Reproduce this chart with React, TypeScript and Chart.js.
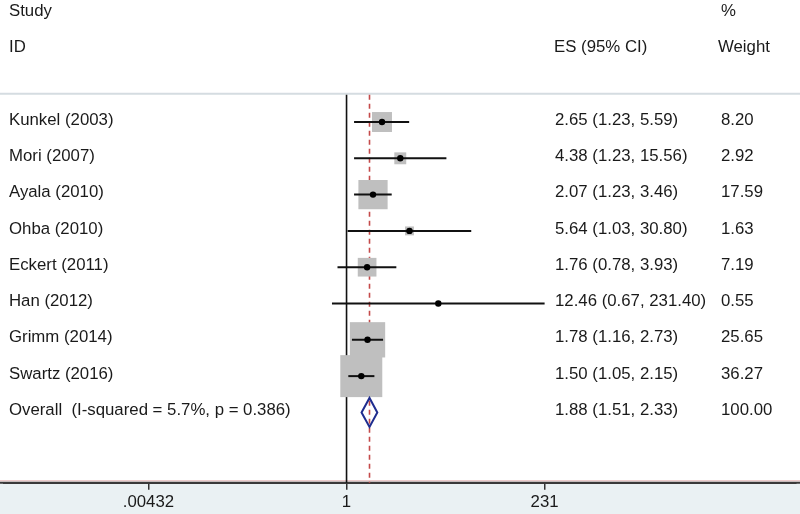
import React, { useEffect, useRef } from "react";
import { Chart, registerables } from "chart.js";

Chart.register(...registerables);

const studies = [
  "Kunkel (2003)",
  "Mori (2007)",
  "Ayala (2010)",
  "Ohba (2010)",
  "Eckert (2011)",
  "Han (2012)",
  "Grimm (2014)",
  "Swartz (2016)",
];
const es = [2.65, 4.38, 2.07, 5.64, 1.76, 12.46, 1.78, 1.5];
const lo = [1.23, 1.23, 1.23, 1.03, 0.78, 0.67, 1.16, 1.05];
const hi = [5.59, 15.56, 3.46, 30.8, 3.93, 231.4, 2.73, 2.15];
const weights = [8.2, 2.92, 17.59, 1.63, 7.19, 0.55, 25.65, 36.27];

const overallLabel = "Overall  (I-squared = 5.7%, p = 0.386)";
const overallEs = 1.88;
const overallLo = 1.51;
const overallHi = 2.33;
const overallWeight = 100.0;

const tickValues = [0.00432, 1, 231];
const tickLabels = [".00432", "1", "231"];

const FONT = '"Liberation Sans", Arial, Helvetica, sans-serif';

const fmt = (v: number) => v.toFixed(2);

const forestPlugin = {
  id: "forest",
  beforeDraw(chart: any) {
    const { ctx, chartArea, width, height } = chart;
    ctx.save();
    ctx.fillStyle = "#ffffff";
    ctx.fillRect(0, 0, width, height);
    ctx.fillStyle = "#eaf1f3";
    ctx.fillRect(0, chartArea.bottom, width, height - chartArea.bottom);
    ctx.restore();
  },
  beforeDatasetsDraw(chart: any) {
    const { ctx, chartArea, scales } = chart;
    const xs = scales.x;
    const ys = scales.y;
    const sepY = ys.getPixelForValue(-0.78);
    ctx.save();

    // separator
    ctx.strokeStyle = "#d5dce1";
    ctx.lineWidth = 2;
    ctx.beginPath();
    ctx.moveTo(0, sepY);
    ctx.lineTo(chart.width, sepY);
    ctx.stroke();

    // axis line across the full width, with pinkish edge above
    ctx.strokeStyle = "#e3b4b4";
    ctx.lineWidth = 1;
    ctx.beginPath();
    ctx.moveTo(0, chartArea.bottom - 2);
    ctx.lineTo(chart.width, chartArea.bottom - 2);
    ctx.stroke();
    ctx.strokeStyle = "#3a3a3a";
    ctx.lineWidth = 2;
    ctx.beginPath();
    ctx.moveTo(0, chartArea.bottom);
    ctx.lineTo(chart.width, chartArea.bottom);
    ctx.stroke();

    // no-effect line
    const x1 = xs.getPixelForValue(1);
    ctx.strokeStyle = "#111111";
    ctx.lineWidth = 1.6;
    ctx.beginPath();
    ctx.moveTo(x1, sepY + 1);
    ctx.lineTo(x1, chartArea.bottom);
    ctx.stroke();

    // overall dashed line
    const xo = xs.getPixelForValue(overallEs);
    ctx.strokeStyle = "#c44a4a";
    ctx.lineWidth = 1.6;
    ctx.setLineDash([5, 4]);
    ctx.beginPath();
    ctx.moveTo(xo, sepY + 1);
    ctx.lineTo(xo, chartArea.bottom);
    ctx.stroke();
    ctx.setLineDash([]);

    // boxes
    ctx.fillStyle = "#bfbfbf";
    for (let i = 0; i < studies.length; i++) {
      const side = 6.97 * Math.sqrt(weights[i]);
      const cx = xs.getPixelForValue(es[i]);
      const cy = ys.getPixelForValue(i);
      ctx.fillRect(cx - side / 2, cy - side / 2, side, side);
    }

    // CI lines
    ctx.strokeStyle = "#111111";
    ctx.lineWidth = 2;
    for (let i = 0; i < studies.length; i++) {
      const cy = ys.getPixelForValue(i);
      ctx.beginPath();
      ctx.moveTo(xs.getPixelForValue(lo[i]), cy);
      ctx.lineTo(xs.getPixelForValue(hi[i]), cy);
      ctx.stroke();
    }

    // diamond
    const oy = ys.getPixelForValue(studies.length);
    const h = 14.5;
    ctx.strokeStyle = "#1f2d8f";
    ctx.lineWidth = 2;
    ctx.beginPath();
    ctx.moveTo(xs.getPixelForValue(overallLo), oy);
    ctx.lineTo(xo, oy - h);
    ctx.lineTo(xs.getPixelForValue(overallHi), oy);
    ctx.lineTo(xo, oy + h);
    ctx.closePath();
    ctx.stroke();

    // texts
    const dy = -2;
    ctx.fillStyle = "#1a1a1a";
    ctx.font = `16.8px ${FONT}`;
    ctx.textBaseline = "middle";
    ctx.textAlign = "left";
    const xLab = 9;
    const xEs = 555;
    const xW = 721;
    ctx.fillText("Study", xLab, ys.getPixelForValue(-3) + dy);
    ctx.fillText("ID", xLab, ys.getPixelForValue(-2) + dy);
    ctx.fillText("ES (95% CI)", xEs - 1, ys.getPixelForValue(-2) + dy);
    ctx.fillText("%", xW, ys.getPixelForValue(-3) + dy);
    ctx.fillText("Weight", xW - 3, ys.getPixelForValue(-2) + dy);
    for (let i = 0; i < studies.length; i++) {
      const cy = ys.getPixelForValue(i) + dy;
      ctx.fillText(studies[i], xLab, cy);
      ctx.fillText(`${fmt(es[i])} (${fmt(lo[i])}, ${fmt(hi[i])})`, xEs, cy);
      ctx.fillText(fmt(weights[i]), xW, cy);
    }
    ctx.fillText(overallLabel, xLab, oy + dy);
    ctx.fillText(`${fmt(overallEs)} (${fmt(overallLo)}, ${fmt(overallHi)})`, xEs, oy + dy);
    ctx.fillText(fmt(overallWeight), xW, oy + dy);

    ctx.restore();
  },
};

export default function App() {
  const ref = useRef<HTMLCanvasElement | null>(null);
  useEffect(() => {
    if (!ref.current) return;
    const chart = new Chart(ref.current, {
      type: "scatter",
      data: {
        datasets: [
          {
            data: es.map((v, i) => ({ x: v, y: i })),
            pointRadius: 3.2,
            pointBackgroundColor: "#000000",
            pointBorderColor: "#000000",
            pointBorderWidth: 0,
          },
        ],
      },
      options: {
        animation: false,
        responsive: true,
        maintainAspectRatio: false,
        layout: { padding: 0 },
        plugins: {
          legend: { display: false },
          tooltip: { enabled: false },
          title: { display: false },
        },
        scales: {
          x: {
            type: "logarithmic",
            position: "bottom",
            min: Math.exp(-346 / 36.75),
            max: Math.exp(454 / 36.75),
            afterBuildTicks: (scale: any) => {
              scale.ticks = tickValues.map((v) => ({ value: v }));
            },
            ticks: {
              autoSkip: false,
              maxRotation: 0,
              padding: 2,
              color: "#1a1a1a",
              font: { family: FONT, size: 16.8 },
              callback: (_v: any, i: number) => tickLabels[i],
            },
            grid: {
              display: true,
              drawOnChartArea: false,
              drawTicks: true,
              tickLength: 7,
              color: "#333333",
              lineWidth: 1.5,
            },
            border: { display: true, color: "#3a3a3a", width: 2 },
          },
          y: {
            type: "linear",
            display: false,
            reverse: true,
            min: -3.251,
            max: 9.94,
          },
        },
      },
      plugins: [forestPlugin],
    });
    return () => chart.destroy();
  }, []);
  return (
    <div style={{ position: "fixed", left: 0, top: 0, width: 800, height: 514 }}>
      <canvas ref={ref} />
    </div>
  );
}
